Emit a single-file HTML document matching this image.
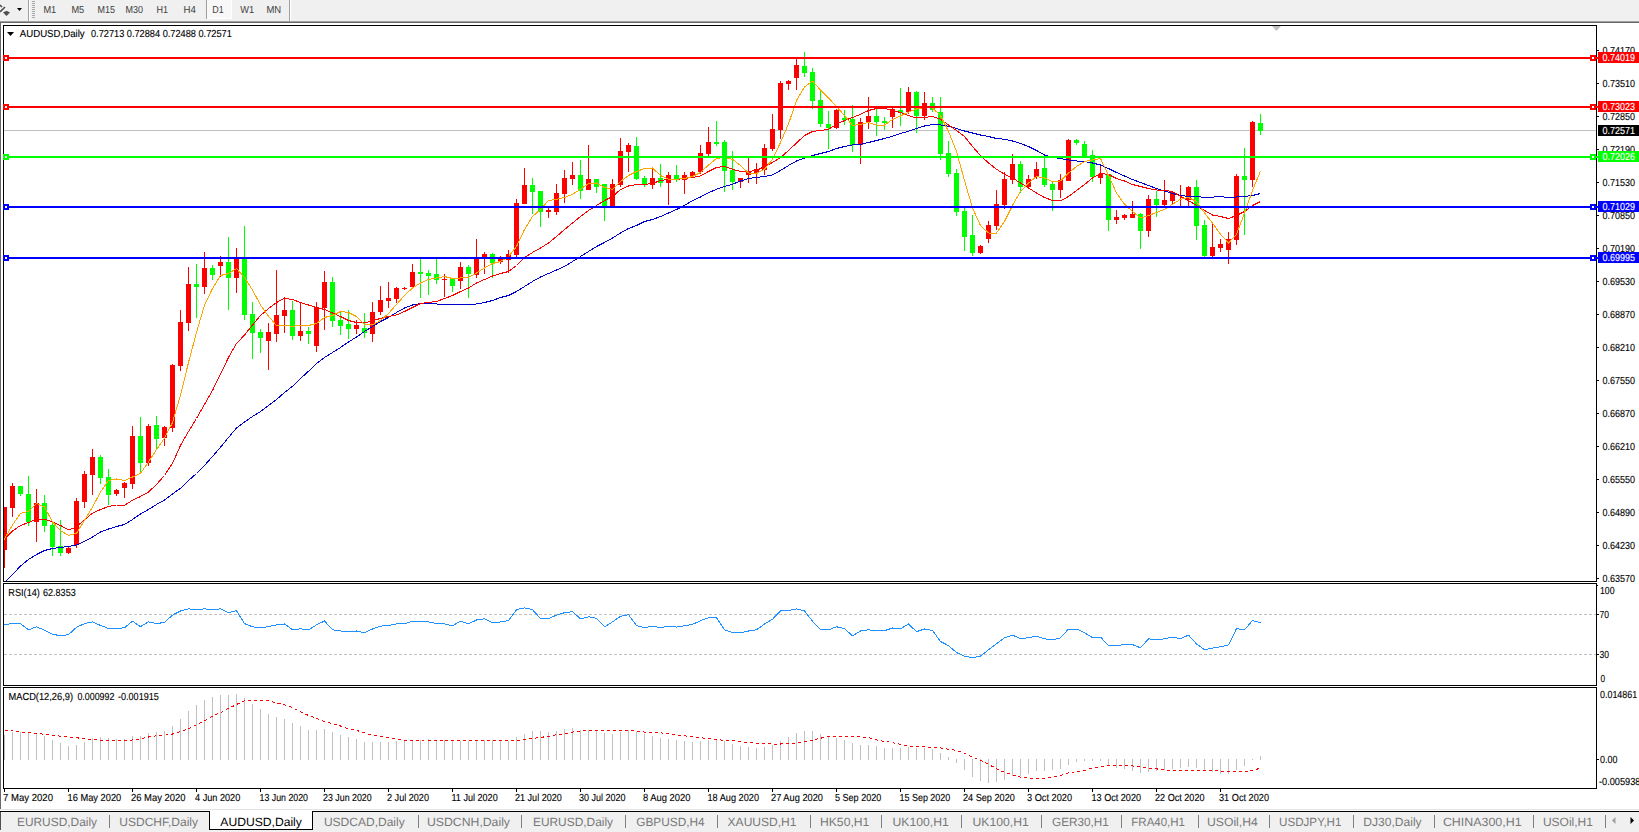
<!DOCTYPE html><html><head><meta charset="utf-8"><title>AUDUSD,Daily</title><style>html,body{margin:0;padding:0;background:#fff;}body{width:1639px;height:832px;overflow:hidden;font-family:"Liberation Sans",sans-serif;}svg{display:block;}text{font-family:"Liberation Sans",sans-serif;text-rendering:geometricPrecision;}</style></head><body>
<svg width="1639" height="832" viewBox="0 0 1639 832">
<rect width="1639" height="832" fill="#fff"/>
<g shape-rendering="crispEdges">
<rect x="0" y="0" width="1639" height="21" fill="#f0f0f0" />
<rect x="0" y="21" width="1639" height="1" fill="#a0a0a0" />
<rect x="0" y="22" width="1639" height="1" fill="#696969" />
<rect x="0" y="23" width="1" height="786" fill="#696969" />
<rect x="28" y="0" width="1" height="21" fill="#a0a0a0" />
<rect x="29" y="0" width="1" height="21" fill="#ffffff" />
<rect x="289" y="0" width="1" height="21" fill="#a0a0a0" />
<rect x="290" y="0" width="1" height="21" fill="#ffffff" />
<rect x="32" y="1" width="3" height="1" fill="#a8a8a8" />
<rect x="32" y="3" width="3" height="1" fill="#a8a8a8" />
<rect x="32" y="5" width="3" height="1" fill="#a8a8a8" />
<rect x="32" y="7" width="3" height="1" fill="#a8a8a8" />
<rect x="32" y="9" width="3" height="1" fill="#a8a8a8" />
<rect x="32" y="11" width="3" height="1" fill="#a8a8a8" />
<rect x="32" y="13" width="3" height="1" fill="#a8a8a8" />
<rect x="32" y="15" width="3" height="1" fill="#a8a8a8" />
<rect x="32" y="17" width="3" height="1" fill="#a8a8a8" />
<rect x="207" y="0" width="24" height="18" fill="#f8f8f8" />
<rect x="206" y="0" width="1" height="19" fill="#a0a0a0" />
<rect x="231" y="0" width="1" height="19" fill="#fff" />
<rect x="207" y="18" width="25" height="1" fill="#fff" />
<rect x="3" y="25" width="1594" height="1" fill="#000" />
<rect x="3" y="25" width="1" height="764" fill="#000" />
<rect x="1596" y="25" width="1" height="764" fill="#000" />
<rect x="3" y="581" width="1594" height="1" fill="#000" />
<rect x="3" y="582" width="1594" height="1" fill="#fff" />
<rect x="3" y="583" width="1594" height="1" fill="#000" />
<rect x="3" y="685" width="1594" height="1" fill="#000" />
<rect x="3" y="686" width="1594" height="1" fill="#fff" />
<rect x="3" y="687" width="1594" height="1" fill="#000" />
<rect x="3" y="788" width="1594" height="1" fill="#000" />
</g>
<defs><clipPath id="cm"><rect x="4" y="26" width="1592" height="555"/></clipPath><clipPath id="ca"><rect x="1597" y="26" width="42" height="556"/></clipPath></defs>
<g clip-path="url(#cm)">
<g shape-rendering="crispEdges">
<rect x="4" y="130" width="1592" height="1" fill="#c0c0c0" />
</g><polygon points="1272,26 1281,26 1276.5,31" fill="#c0c0c0"/><g shape-rendering="crispEdges">
<rect x="4" y="507" width="1" height="61" fill="#ff0000" />
<rect x="2" y="507" width="5" height="43" fill="#ff0000" />
<rect x="12" y="483" width="1" height="34" fill="#ff0000" />
<rect x="10" y="486" width="5" height="22" fill="#ff0000" />
<rect x="20" y="486" width="1" height="10" fill="#00ff00" />
<rect x="18" y="486" width="5" height="8" fill="#00ff00" />
<rect x="28" y="476" width="1" height="50" fill="#00ff00" />
<rect x="26" y="494" width="5" height="28" fill="#00ff00" />
<rect x="36" y="489" width="1" height="53" fill="#ff0000" />
<rect x="34" y="503" width="5" height="19" fill="#ff0000" />
<rect x="44" y="495" width="1" height="37" fill="#00ff00" />
<rect x="42" y="503" width="5" height="23" fill="#00ff00" />
<rect x="52" y="522" width="1" height="34" fill="#00ff00" />
<rect x="50" y="525" width="5" height="22" fill="#00ff00" />
<rect x="60" y="520" width="1" height="36" fill="#00ff00" />
<rect x="58" y="546" width="5" height="7" fill="#00ff00" />
<rect x="68" y="547" width="1" height="7" fill="#ff0000" />
<rect x="66" y="548" width="5" height="5" fill="#ff0000" />
<rect x="76" y="498" width="1" height="50" fill="#ff0000" />
<rect x="74" y="501" width="5" height="44" fill="#ff0000" />
<rect x="84" y="471" width="1" height="37" fill="#ff0000" />
<rect x="82" y="474" width="5" height="28" fill="#ff0000" />
<rect x="92" y="449" width="1" height="46" fill="#ff0000" />
<rect x="90" y="457" width="5" height="18" fill="#ff0000" />
<rect x="100" y="455" width="1" height="29" fill="#00ff00" />
<rect x="98" y="457" width="5" height="21" fill="#00ff00" />
<rect x="108" y="469" width="1" height="36" fill="#00ff00" />
<rect x="106" y="477" width="5" height="18" fill="#00ff00" />
<rect x="116" y="489" width="1" height="7" fill="#ff0000" />
<rect x="114" y="490" width="5" height="4" fill="#ff0000" />
<rect x="124" y="482" width="1" height="16" fill="#ff0000" />
<rect x="122" y="483" width="5" height="5" fill="#ff0000" />
<rect x="132" y="426" width="1" height="63" fill="#ff0000" />
<rect x="130" y="436" width="5" height="48" fill="#ff0000" />
<rect x="140" y="417" width="1" height="56" fill="#00ff00" />
<rect x="138" y="436" width="5" height="27" fill="#00ff00" />
<rect x="148" y="424" width="1" height="42" fill="#ff0000" />
<rect x="146" y="426" width="5" height="37" fill="#ff0000" />
<rect x="156" y="416" width="1" height="33" fill="#00ff00" />
<rect x="154" y="425" width="5" height="14" fill="#00ff00" />
<rect x="164" y="426" width="1" height="20" fill="#ff0000" />
<rect x="162" y="427" width="5" height="11" fill="#ff0000" />
<rect x="172" y="364" width="1" height="68" fill="#ff0000" />
<rect x="170" y="365" width="5" height="63" fill="#ff0000" />
<rect x="180" y="310" width="1" height="61" fill="#ff0000" />
<rect x="178" y="322" width="5" height="44" fill="#ff0000" />
<rect x="188" y="267" width="1" height="64" fill="#ff0000" />
<rect x="186" y="284" width="5" height="39" fill="#ff0000" />
<rect x="196" y="264" width="1" height="54" fill="#00ff00" />
<rect x="194" y="284" width="5" height="3" fill="#00ff00" />
<rect x="204" y="252" width="1" height="42" fill="#ff0000" />
<rect x="202" y="268" width="5" height="19" fill="#ff0000" />
<rect x="212" y="265" width="1" height="15" fill="#00ff00" />
<rect x="210" y="268" width="5" height="7" fill="#00ff00" />
<rect x="220" y="256" width="1" height="21" fill="#ff0000" />
<rect x="218" y="262" width="5" height="4" fill="#ff0000" />
<rect x="228" y="237" width="1" height="73" fill="#00ff00" />
<rect x="226" y="262" width="5" height="16" fill="#00ff00" />
<rect x="236" y="248" width="1" height="45" fill="#ff0000" />
<rect x="234" y="259" width="5" height="19" fill="#ff0000" />
<rect x="244" y="226" width="1" height="94" fill="#00ff00" />
<rect x="242" y="259" width="5" height="56" fill="#00ff00" />
<rect x="252" y="302" width="1" height="57" fill="#00ff00" />
<rect x="250" y="314" width="5" height="19" fill="#00ff00" />
<rect x="260" y="329" width="1" height="24" fill="#00ff00" />
<rect x="258" y="332" width="5" height="6" fill="#00ff00" />
<rect x="268" y="323" width="1" height="47" fill="#ff0000" />
<rect x="266" y="332" width="5" height="9" fill="#ff0000" />
<rect x="276" y="270" width="1" height="72" fill="#ff0000" />
<rect x="274" y="315" width="5" height="19" fill="#ff0000" />
<rect x="284" y="297" width="1" height="36" fill="#ff0000" />
<rect x="282" y="310" width="5" height="6" fill="#ff0000" />
<rect x="292" y="301" width="1" height="39" fill="#00ff00" />
<rect x="290" y="310" width="5" height="26" fill="#00ff00" />
<rect x="300" y="302" width="1" height="39" fill="#ff0000" />
<rect x="298" y="331" width="5" height="5" fill="#ff0000" />
<rect x="308" y="327" width="1" height="17" fill="#00ff00" />
<rect x="306" y="331" width="5" height="3" fill="#00ff00" />
<rect x="316" y="302" width="1" height="50" fill="#ff0000" />
<rect x="314" y="307" width="5" height="39" fill="#ff0000" />
<rect x="324" y="271" width="1" height="59" fill="#ff0000" />
<rect x="322" y="282" width="5" height="26" fill="#ff0000" />
<rect x="332" y="277" width="1" height="50" fill="#00ff00" />
<rect x="330" y="282" width="5" height="39" fill="#00ff00" />
<rect x="340" y="312" width="1" height="23" fill="#00ff00" />
<rect x="338" y="320" width="5" height="6" fill="#00ff00" />
<rect x="348" y="310" width="1" height="29" fill="#00ff00" />
<rect x="346" y="324" width="5" height="5" fill="#00ff00" />
<rect x="356" y="320" width="1" height="14" fill="#ff0000" />
<rect x="354" y="325" width="5" height="4" fill="#ff0000" />
<rect x="364" y="313" width="1" height="25" fill="#00ff00" />
<rect x="362" y="328" width="5" height="5" fill="#00ff00" />
<rect x="372" y="302" width="1" height="40" fill="#ff0000" />
<rect x="370" y="312" width="5" height="22" fill="#ff0000" />
<rect x="380" y="286" width="1" height="29" fill="#ff0000" />
<rect x="378" y="300" width="5" height="12" fill="#ff0000" />
<rect x="388" y="282" width="1" height="26" fill="#ff0000" />
<rect x="386" y="298" width="5" height="3" fill="#ff0000" />
<rect x="396" y="287" width="1" height="16" fill="#ff0000" />
<rect x="394" y="288" width="5" height="11" fill="#ff0000" />
<rect x="404" y="287" width="1" height="3" fill="#ff0000" />
<rect x="402" y="288" width="5" height="1" fill="#ff0000" />
<rect x="412" y="264" width="1" height="24" fill="#ff0000" />
<rect x="410" y="272" width="5" height="15" fill="#ff0000" />
<rect x="420" y="259" width="1" height="39" fill="#00ff00" />
<rect x="418" y="272" width="5" height="2" fill="#00ff00" />
<rect x="428" y="270" width="1" height="25" fill="#00ff00" />
<rect x="426" y="273" width="5" height="3" fill="#00ff00" />
<rect x="436" y="259" width="1" height="25" fill="#00ff00" />
<rect x="434" y="274" width="5" height="6" fill="#00ff00" />
<rect x="444" y="274" width="1" height="23" fill="#ff0000" />
<rect x="442" y="279" width="5" height="1" fill="#ff0000" />
<rect x="452" y="279" width="1" height="13" fill="#00ff00" />
<rect x="450" y="279" width="5" height="7" fill="#00ff00" />
<rect x="460" y="262" width="1" height="27" fill="#ff0000" />
<rect x="458" y="267" width="5" height="14" fill="#ff0000" />
<rect x="468" y="265" width="1" height="33" fill="#00ff00" />
<rect x="466" y="267" width="5" height="7" fill="#00ff00" />
<rect x="476" y="239" width="1" height="39" fill="#ff0000" />
<rect x="474" y="259" width="5" height="16" fill="#ff0000" />
<rect x="484" y="252" width="1" height="22" fill="#ff0000" />
<rect x="482" y="254" width="5" height="5" fill="#ff0000" />
<rect x="492" y="253" width="1" height="25" fill="#00ff00" />
<rect x="490" y="254" width="5" height="9" fill="#00ff00" />
<rect x="500" y="256" width="1" height="8" fill="#ff0000" />
<rect x="498" y="259" width="5" height="3" fill="#ff0000" />
<rect x="508" y="250" width="1" height="23" fill="#ff0000" />
<rect x="506" y="254" width="5" height="6" fill="#ff0000" />
<rect x="516" y="199" width="1" height="58" fill="#ff0000" />
<rect x="514" y="203" width="5" height="52" fill="#ff0000" />
<rect x="524" y="168" width="1" height="36" fill="#ff0000" />
<rect x="522" y="185" width="5" height="19" fill="#ff0000" />
<rect x="532" y="178" width="1" height="36" fill="#00ff00" />
<rect x="530" y="185" width="5" height="7" fill="#00ff00" />
<rect x="540" y="191" width="1" height="36" fill="#00ff00" />
<rect x="538" y="191" width="5" height="21" fill="#00ff00" />
<rect x="548" y="207" width="1" height="11" fill="#ff0000" />
<rect x="546" y="210" width="5" height="2" fill="#ff0000" />
<rect x="556" y="184" width="1" height="31" fill="#ff0000" />
<rect x="554" y="193" width="5" height="19" fill="#ff0000" />
<rect x="564" y="170" width="1" height="33" fill="#ff0000" />
<rect x="562" y="178" width="5" height="16" fill="#ff0000" />
<rect x="572" y="162" width="1" height="23" fill="#ff0000" />
<rect x="570" y="175" width="5" height="4" fill="#ff0000" />
<rect x="580" y="160" width="1" height="39" fill="#00ff00" />
<rect x="578" y="175" width="5" height="16" fill="#00ff00" />
<rect x="588" y="145" width="1" height="45" fill="#ff0000" />
<rect x="586" y="179" width="5" height="11" fill="#ff0000" />
<rect x="596" y="179" width="1" height="14" fill="#00ff00" />
<rect x="594" y="179" width="5" height="8" fill="#00ff00" />
<rect x="604" y="184" width="1" height="37" fill="#00ff00" />
<rect x="602" y="184" width="5" height="22" fill="#00ff00" />
<rect x="612" y="179" width="1" height="27" fill="#ff0000" />
<rect x="610" y="184" width="5" height="22" fill="#ff0000" />
<rect x="620" y="138" width="1" height="49" fill="#ff0000" />
<rect x="618" y="151" width="5" height="34" fill="#ff0000" />
<rect x="628" y="143" width="1" height="29" fill="#ff0000" />
<rect x="626" y="145" width="5" height="7" fill="#ff0000" />
<rect x="636" y="137" width="1" height="43" fill="#00ff00" />
<rect x="634" y="146" width="5" height="33" fill="#00ff00" />
<rect x="644" y="176" width="1" height="11" fill="#00ff00" />
<rect x="642" y="178" width="5" height="6" fill="#00ff00" />
<rect x="652" y="167" width="1" height="22" fill="#ff0000" />
<rect x="650" y="178" width="5" height="7" fill="#ff0000" />
<rect x="660" y="164" width="1" height="23" fill="#00ff00" />
<rect x="658" y="178" width="5" height="5" fill="#00ff00" />
<rect x="668" y="172" width="1" height="33" fill="#ff0000" />
<rect x="666" y="175" width="5" height="8" fill="#ff0000" />
<rect x="676" y="165" width="1" height="17" fill="#00ff00" />
<rect x="674" y="175" width="5" height="4" fill="#00ff00" />
<rect x="684" y="172" width="1" height="22" fill="#ff0000" />
<rect x="682" y="175" width="5" height="5" fill="#ff0000" />
<rect x="692" y="171" width="1" height="7" fill="#ff0000" />
<rect x="690" y="172" width="5" height="4" fill="#ff0000" />
<rect x="700" y="145" width="1" height="29" fill="#ff0000" />
<rect x="698" y="153" width="5" height="19" fill="#ff0000" />
<rect x="708" y="127" width="1" height="29" fill="#ff0000" />
<rect x="706" y="142" width="5" height="12" fill="#ff0000" />
<rect x="716" y="121" width="1" height="25" fill="#00ff00" />
<rect x="714" y="142" width="5" height="2" fill="#00ff00" />
<rect x="724" y="140" width="1" height="52" fill="#00ff00" />
<rect x="722" y="142" width="5" height="29" fill="#00ff00" />
<rect x="732" y="151" width="1" height="39" fill="#00ff00" />
<rect x="730" y="170" width="5" height="12" fill="#00ff00" />
<rect x="740" y="178" width="1" height="10" fill="#ff0000" />
<rect x="738" y="178" width="5" height="4" fill="#ff0000" />
<rect x="748" y="158" width="1" height="25" fill="#ff0000" />
<rect x="746" y="172" width="5" height="3" fill="#ff0000" />
<rect x="756" y="163" width="1" height="21" fill="#ff0000" />
<rect x="754" y="169" width="5" height="4" fill="#ff0000" />
<rect x="764" y="144" width="1" height="31" fill="#ff0000" />
<rect x="762" y="148" width="5" height="22" fill="#ff0000" />
<rect x="772" y="114" width="1" height="37" fill="#ff0000" />
<rect x="770" y="129" width="5" height="20" fill="#ff0000" />
<rect x="780" y="81" width="1" height="58" fill="#ff0000" />
<rect x="778" y="83" width="5" height="47" fill="#ff0000" />
<rect x="788" y="80" width="1" height="10" fill="#ff0000" />
<rect x="786" y="81" width="5" height="3" fill="#ff0000" />
<rect x="796" y="59" width="1" height="31" fill="#ff0000" />
<rect x="794" y="65" width="5" height="13" fill="#ff0000" />
<rect x="804" y="52" width="1" height="25" fill="#00ff00" />
<rect x="802" y="66" width="5" height="7" fill="#00ff00" />
<rect x="812" y="68" width="1" height="41" fill="#00ff00" />
<rect x="810" y="72" width="5" height="29" fill="#00ff00" />
<rect x="820" y="89" width="1" height="38" fill="#00ff00" />
<rect x="818" y="100" width="5" height="24" fill="#00ff00" />
<rect x="828" y="111" width="1" height="38" fill="#00ff00" />
<rect x="826" y="124" width="5" height="4" fill="#00ff00" />
<rect x="836" y="109" width="1" height="20" fill="#ff0000" />
<rect x="834" y="110" width="5" height="18" fill="#ff0000" />
<rect x="844" y="110" width="1" height="15" fill="#00ff00" />
<rect x="842" y="118" width="5" height="2" fill="#00ff00" />
<rect x="852" y="105" width="1" height="47" fill="#00ff00" />
<rect x="850" y="119" width="5" height="26" fill="#00ff00" />
<rect x="860" y="118" width="1" height="46" fill="#ff0000" />
<rect x="858" y="122" width="5" height="23" fill="#ff0000" />
<rect x="868" y="97" width="1" height="32" fill="#ff0000" />
<rect x="866" y="116" width="5" height="6" fill="#ff0000" />
<rect x="876" y="109" width="1" height="27" fill="#00ff00" />
<rect x="874" y="116" width="5" height="6" fill="#00ff00" />
<rect x="884" y="117" width="1" height="13" fill="#00ff00" />
<rect x="882" y="121" width="5" height="2" fill="#00ff00" />
<rect x="892" y="108" width="1" height="20" fill="#ff0000" />
<rect x="890" y="109" width="5" height="8" fill="#ff0000" />
<rect x="900" y="88" width="1" height="38" fill="#00ff00" />
<rect x="898" y="110" width="5" height="3" fill="#00ff00" />
<rect x="908" y="87" width="1" height="27" fill="#ff0000" />
<rect x="906" y="92" width="5" height="20" fill="#ff0000" />
<rect x="916" y="91" width="1" height="42" fill="#00ff00" />
<rect x="914" y="92" width="5" height="24" fill="#00ff00" />
<rect x="924" y="92" width="1" height="28" fill="#ff0000" />
<rect x="922" y="103" width="5" height="13" fill="#ff0000" />
<rect x="932" y="97" width="1" height="15" fill="#00ff00" />
<rect x="930" y="103" width="5" height="7" fill="#00ff00" />
<rect x="940" y="97" width="1" height="63" fill="#00ff00" />
<rect x="938" y="112" width="5" height="42" fill="#00ff00" />
<rect x="948" y="141" width="1" height="36" fill="#00ff00" />
<rect x="946" y="153" width="5" height="21" fill="#00ff00" />
<rect x="956" y="169" width="1" height="47" fill="#00ff00" />
<rect x="954" y="173" width="5" height="39" fill="#00ff00" />
<rect x="964" y="208" width="1" height="43" fill="#00ff00" />
<rect x="962" y="211" width="5" height="26" fill="#00ff00" />
<rect x="972" y="215" width="1" height="41" fill="#00ff00" />
<rect x="970" y="235" width="5" height="18" fill="#00ff00" />
<rect x="980" y="245" width="1" height="9" fill="#ff0000" />
<rect x="978" y="246" width="5" height="7" fill="#ff0000" />
<rect x="988" y="221" width="1" height="22" fill="#ff0000" />
<rect x="986" y="225" width="5" height="14" fill="#ff0000" />
<rect x="996" y="190" width="1" height="40" fill="#ff0000" />
<rect x="994" y="204" width="5" height="22" fill="#ff0000" />
<rect x="1004" y="172" width="1" height="37" fill="#ff0000" />
<rect x="1002" y="179" width="5" height="26" fill="#ff0000" />
<rect x="1012" y="154" width="1" height="30" fill="#ff0000" />
<rect x="1010" y="164" width="5" height="16" fill="#ff0000" />
<rect x="1020" y="161" width="1" height="32" fill="#00ff00" />
<rect x="1018" y="164" width="5" height="23" fill="#00ff00" />
<rect x="1028" y="175" width="1" height="14" fill="#ff0000" />
<rect x="1026" y="179" width="5" height="8" fill="#ff0000" />
<rect x="1036" y="162" width="1" height="17" fill="#ff0000" />
<rect x="1034" y="169" width="5" height="8" fill="#ff0000" />
<rect x="1044" y="155" width="1" height="32" fill="#00ff00" />
<rect x="1042" y="168" width="5" height="17" fill="#00ff00" />
<rect x="1052" y="181" width="1" height="30" fill="#00ff00" />
<rect x="1050" y="184" width="5" height="6" fill="#00ff00" />
<rect x="1060" y="174" width="1" height="24" fill="#ff0000" />
<rect x="1058" y="180" width="5" height="10" fill="#ff0000" />
<rect x="1068" y="139" width="1" height="42" fill="#ff0000" />
<rect x="1066" y="140" width="5" height="41" fill="#ff0000" />
<rect x="1076" y="139" width="1" height="6" fill="#00ff00" />
<rect x="1074" y="140" width="5" height="3" fill="#00ff00" />
<rect x="1084" y="141" width="1" height="16" fill="#00ff00" />
<rect x="1082" y="144" width="5" height="13" fill="#00ff00" />
<rect x="1092" y="150" width="1" height="32" fill="#00ff00" />
<rect x="1090" y="155" width="5" height="22" fill="#00ff00" />
<rect x="1100" y="165" width="1" height="19" fill="#ff0000" />
<rect x="1098" y="174" width="5" height="4" fill="#ff0000" />
<rect x="1108" y="174" width="1" height="57" fill="#00ff00" />
<rect x="1106" y="174" width="5" height="46" fill="#00ff00" />
<rect x="1116" y="210" width="1" height="14" fill="#ff0000" />
<rect x="1114" y="217" width="5" height="3" fill="#ff0000" />
<rect x="1124" y="214" width="1" height="6" fill="#ff0000" />
<rect x="1122" y="215" width="5" height="3" fill="#ff0000" />
<rect x="1132" y="201" width="1" height="17" fill="#ff0000" />
<rect x="1130" y="214" width="5" height="4" fill="#ff0000" />
<rect x="1140" y="213" width="1" height="36" fill="#00ff00" />
<rect x="1138" y="214" width="5" height="17" fill="#00ff00" />
<rect x="1148" y="195" width="1" height="42" fill="#ff0000" />
<rect x="1146" y="199" width="5" height="32" fill="#ff0000" />
<rect x="1156" y="191" width="1" height="26" fill="#00ff00" />
<rect x="1154" y="199" width="5" height="6" fill="#00ff00" />
<rect x="1164" y="180" width="1" height="28" fill="#ff0000" />
<rect x="1162" y="200" width="5" height="5" fill="#ff0000" />
<rect x="1172" y="191" width="1" height="14" fill="#ff0000" />
<rect x="1170" y="192" width="5" height="9" fill="#ff0000" />
<rect x="1180" y="185" width="1" height="21" fill="#ff0000" />
<rect x="1178" y="195" width="5" height="1" fill="#ff0000" />
<rect x="1188" y="186" width="1" height="20" fill="#ff0000" />
<rect x="1186" y="187" width="5" height="13" fill="#ff0000" />
<rect x="1196" y="180" width="1" height="60" fill="#00ff00" />
<rect x="1194" y="187" width="5" height="39" fill="#00ff00" />
<rect x="1204" y="220" width="1" height="37" fill="#00ff00" />
<rect x="1202" y="225" width="5" height="31" fill="#00ff00" />
<rect x="1212" y="222" width="1" height="35" fill="#ff0000" />
<rect x="1210" y="247" width="5" height="9" fill="#ff0000" />
<rect x="1220" y="239" width="1" height="13" fill="#ff0000" />
<rect x="1218" y="244" width="5" height="4" fill="#ff0000" />
<rect x="1228" y="232" width="1" height="32" fill="#ff0000" />
<rect x="1226" y="239" width="5" height="11" fill="#ff0000" />
<rect x="1236" y="174" width="1" height="71" fill="#ff0000" />
<rect x="1234" y="176" width="5" height="64" fill="#ff0000" />
<rect x="1244" y="148" width="1" height="87" fill="#00ff00" />
<rect x="1242" y="176" width="5" height="4" fill="#00ff00" />
<rect x="1252" y="121" width="1" height="66" fill="#ff0000" />
<rect x="1250" y="122" width="5" height="58" fill="#ff0000" />
<rect x="1260" y="114" width="1" height="21" fill="#00ff00" />
<rect x="1258" y="123" width="5" height="8" fill="#00ff00" />
</g>
<polyline points="-3.5,590.5 4.5,582.5 12.5,574.5 20.5,566 28.5,559.5 36.5,554.5 44.5,550.5 52.5,548.5 60.5,547.5 68.5,546.5 76.5,545 84.5,541.5 92.5,537 100.5,532 108.5,529 116.5,526.5 124.5,524.5 132.5,519.5 140.5,514 148.5,509.5 156.5,504.5 164.5,500 172.5,494 180.5,488.25 188.5,480.5 196.5,473.5 204.5,465.5 212.5,456.5 220.5,447.2 228.5,437.5 236.5,428 244.5,422 252.5,416.5 260.5,411.5 268.5,405.5 276.5,399.5 284.5,392.5 292.5,386.25 300.5,378.5 308.5,371.25 316.5,363.5 324.5,357.5 332.5,352.5 340.5,347.5 348.5,342 356.5,337 364.5,331.5 372.5,326.5 380.5,321.5 388.5,317.5 396.5,312.5 404.5,308 412.5,305 420.5,303.5 428.5,303.5 436.5,304 444.5,304 452.5,304.5 460.5,305 468.5,304.5 476.5,304 484.5,302.5 492.5,300.5 500.5,297.5 508.5,295.5 516.5,291.5 524.5,286.5 532.5,281.5 540.5,277 548.5,273.5 556.5,270 564.5,266.5 572.5,261.5 580.5,256.5 588.5,251.5 596.5,246.5 604.5,242.5 612.5,238 620.5,233 628.5,228.5 636.5,225.5 644.5,221.5 652.5,219.5 660.5,216.5 668.5,213 676.5,209.5 684.5,205.5 692.5,200.5 700.5,197 708.5,192.75 716.5,189.25 724.5,186.5 732.5,184.25 740.5,181 748.5,178.5 756.5,177.5 764.5,176.5 772.5,175 780.5,170.5 788.5,165.5 796.5,161 804.5,158 812.5,155.5 820.5,153.5 828.5,151.5 836.5,148.5 844.5,146.5 852.5,145 860.5,144.25 868.5,142.5 876.5,140.5 884.5,138.5 892.5,136.25 900.5,133.5 908.5,131.25 916.5,128.5 924.5,126 932.5,124.5 940.5,125 948.5,126.25 956.5,128.5 964.5,131 972.5,133 980.5,135 988.5,136.5 996.5,138.5 1004.5,139.25 1012.5,141 1020.5,143.5 1028.5,146.5 1036.5,150.5 1044.5,155 1052.5,157.5 1060.5,158.5 1068.5,160 1076.5,161 1084.5,161.5 1092.5,163 1100.5,165 1108.5,168.5 1116.5,172.5 1124.5,176 1132.5,179.5 1140.5,182.5 1148.5,185.5 1156.5,188.5 1164.5,191 1172.5,193.5 1180.5,195.5 1188.5,196.5 1196.5,196.5 1204.5,197.5 1212.5,197.25 1220.5,196.25 1228.5,198 1236.5,197 1244.5,196.5 1252.5,195.5 1260.5,193.5" fill="none" stroke="#0000cd" stroke-width="1" stroke-linejoin="round" shape-rendering="crispEdges"/>
<polyline points="-3.5,547.5 4.5,539 12.5,531 20.5,525.5 28.5,522.5 36.5,519 44.5,519 52.5,522 60.5,525.5 68.5,530 76.5,527 84.5,519.5 92.5,513.25 100.5,509.5 108.5,506.5 116.5,505 124.5,505.25 132.5,500.25 140.5,496.5 148.5,492 156.5,484.5 164.5,475.5 172.5,463.25 180.5,445.5 188.5,431.5 196.5,418.5 204.5,404.5 212.5,390.5 220.5,374 228.5,357.5 236.5,343.5 244.5,335 252.5,325 260.5,315.5 268.5,308.5 276.5,302.5 284.5,298.25 292.5,299.5 300.5,302.5 308.5,305 316.5,307.5 324.5,309.5 332.5,313 340.5,316.5 348.5,320.5 356.5,322.5 364.5,323 372.5,320.5 380.5,318.5 388.5,316.5 396.5,315 404.5,311.5 412.5,307.5 420.5,303.5 428.5,302.5 436.5,301.5 444.5,298.5 452.5,295.5 460.5,291.5 468.5,288 476.5,283 484.5,279.5 492.5,276 500.5,273.5 508.5,271.5 516.5,265.5 524.5,257.5 532.5,252.5 540.5,248 548.5,243 556.5,236.5 564.5,229.5 572.5,223 580.5,216.5 588.5,210.5 596.5,205.5 604.5,200.5 612.5,196.5 620.5,189.5 628.5,186 636.5,184.5 644.5,184.5 652.5,183.5 660.5,180.5 668.5,179.5 676.5,179.5 684.5,178.5 692.5,177.5 700.5,176 708.5,171.5 716.5,167.5 724.5,166.5 732.5,169.25 740.5,171.5 748.5,171.5 756.5,170.5 764.5,166.5 772.5,162.5 780.5,157.5 788.5,150.5 796.5,143 804.5,135.5 812.5,131.5 820.5,130.5 828.5,129.25 836.5,124.25 844.5,120.5 852.5,117.5 860.5,114.25 868.5,110.5 876.5,108.5 884.5,108.25 892.5,110.5 900.5,112.5 908.5,115.5 916.5,118 924.5,117.5 932.5,116.5 940.5,119.25 948.5,125 956.5,130.5 964.5,136.5 972.5,146.5 980.5,155.5 988.5,163 996.5,169.25 1004.5,174.25 1012.5,178 1020.5,183 1028.5,188 1036.5,193 1044.5,197.5 1052.5,200.5 1060.5,201 1068.5,196.5 1076.5,190.5 1084.5,184.5 1092.5,178 1100.5,173.5 1108.5,174.5 1116.5,178.5 1124.5,181 1132.5,184.5 1140.5,186.5 1148.5,188.5 1156.5,190 1164.5,190.5 1172.5,191.5 1180.5,196.5 1188.5,200.5 1196.5,205.5 1204.5,210.5 1212.5,215 1220.5,216.5 1228.5,218.5 1236.5,215.5 1244.5,211.5 1252.5,205.5 1260.5,201.5" fill="none" stroke="#ff0000" stroke-width="1" stroke-linejoin="round" shape-rendering="crispEdges"/>
<polyline points="-3.5,551.5 4.5,539 12.5,525 20.5,513.25 28.5,511.5 36.5,503.25 44.5,507 52.5,522 60.5,530.5 68.5,535.5 76.5,533.25 84.5,520.5 92.5,507 100.5,492 108.5,480.5 116.5,479 124.5,480.5 132.5,477 140.5,473.25 148.5,462 156.5,449.5 164.5,438.25 172.5,422.5 180.5,395 188.5,362.5 196.5,332.5 204.5,305 212.5,288.5 220.5,275.5 228.5,273.5 236.5,268.5 244.5,277.5 252.5,290 260.5,305 268.5,316.25 276.5,325.5 284.5,325.5 292.5,326.25 300.5,325.5 308.5,325.5 316.5,323.5 324.5,317.5 332.5,315.5 340.5,311.5 348.5,312.5 356.5,316.5 364.5,324.5 372.5,325 380.5,320.5 388.5,313.5 396.5,304.5 404.5,295.5 412.5,288 420.5,283 428.5,279.5 436.5,278 444.5,276.5 452.5,278.5 460.5,278 468.5,277.5 476.5,273 484.5,268 492.5,263.5 500.5,261.5 508.5,256.5 516.5,246.5 524.5,229.5 532.5,216.5 540.5,209.5 548.5,200.5 556.5,199.25 564.5,197.5 572.5,194.25 580.5,189.25 588.5,183.5 596.5,183 604.5,187.5 612.5,189.25 620.5,181.5 628.5,175.5 636.5,171.5 644.5,168.5 652.5,168 660.5,175.5 668.5,179.25 676.5,179.25 684.5,178.5 692.5,176.5 700.5,172.5 708.5,165 716.5,158.5 724.5,157.5 732.5,159.25 740.5,165.5 748.5,173 756.5,173.5 764.5,169.25 772.5,159.2 780.5,142.5 788.5,123.9 796.5,100.5 804.5,86.9 812.5,81.1 820.5,90.1 828.5,98 836.5,106.5 844.5,115.5 852.5,125.5 860.5,124.25 868.5,122.5 876.5,125 884.5,125 892.5,119.5 900.5,116 908.5,112.1 916.5,109 924.5,107.5 932.5,108 940.5,115.5 948.5,131.5 956.5,151.5 964.5,180.5 972.5,208 980.5,225.5 988.5,233 996.5,233 1004.5,221.5 1012.5,205.5 1020.5,191.5 1028.5,183 1036.5,176.5 1044.5,178 1052.5,181.5 1060.5,181 1068.5,173 1076.5,166.5 1084.5,161.5 1092.5,160 1100.5,158.5 1108.5,175.5 1116.5,193 1124.5,204.25 1132.5,211.5 1140.5,218 1148.5,215.5 1156.5,212.5 1164.5,209.25 1172.5,204.25 1180.5,199.25 1188.5,197.5 1196.5,201.5 1204.5,213 1212.5,223 1220.5,234.25 1228.5,243 1236.5,234.25 1244.5,213 1252.5,190.5 1260.5,171" fill="none" stroke="#ffa500" stroke-width="1" stroke-linejoin="round" shape-rendering="crispEdges"/>
</g>
<g shape-rendering="crispEdges">
<rect x="3" y="57" width="1595" height="2" fill="#ff0000" />
<rect x="3" y="55" width="6" height="6" fill="#ff0000" />
<rect x="5" y="57" width="2" height="2" fill="#fff" />
<rect x="1590" y="55" width="6" height="6" fill="#ff0000" />
<rect x="1592" y="57" width="2" height="2" fill="#fff" />
<rect x="3" y="106" width="1595" height="2" fill="#ff0000" />
<rect x="3" y="104" width="6" height="6" fill="#ff0000" />
<rect x="5" y="106" width="2" height="2" fill="#fff" />
<rect x="1590" y="104" width="6" height="6" fill="#ff0000" />
<rect x="1592" y="106" width="2" height="2" fill="#fff" />
<rect x="3" y="156" width="1595" height="2" fill="#00ff00" />
<rect x="3" y="154" width="6" height="6" fill="#00ff00" />
<rect x="5" y="156" width="2" height="2" fill="#fff" />
<rect x="1590" y="154" width="6" height="6" fill="#00ff00" />
<rect x="1592" y="156" width="2" height="2" fill="#fff" />
<rect x="3" y="206" width="1595" height="2" fill="#0000ff" />
<rect x="3" y="204" width="6" height="6" fill="#0000ff" />
<rect x="5" y="206" width="2" height="2" fill="#fff" />
<rect x="1590" y="204" width="6" height="6" fill="#0000ff" />
<rect x="1592" y="206" width="2" height="2" fill="#fff" />
<rect x="3" y="257" width="1595" height="2" fill="#0000ff" />
<rect x="3" y="255" width="6" height="6" fill="#0000ff" />
<rect x="5" y="257" width="2" height="2" fill="#fff" />
<rect x="1590" y="255" width="6" height="6" fill="#0000ff" />
<rect x="1592" y="257" width="2" height="2" fill="#fff" />
</g>
<polygon points="7,32 14,32 10.5,36" fill="#000"/>
<text x="19.8" y="37" font-size="10.2" fill="#000" stroke="#000" stroke-width="0.12" textLength="64.8" lengthAdjust="spacingAndGlyphs" >AUDUSD,Daily</text>
<text x="91" y="37" font-size="10.2" fill="#000" stroke="#000" stroke-width="0.12" textLength="140.75" lengthAdjust="spacingAndGlyphs" >0.72713 0.72884 0.72488 0.72571</text>
<g clip-path="url(#ca)">
<rect x="1597" y="50" width="2" height="1" fill="#000" shape-rendering="crispEdges"/>
<text x="1602.4" y="54" font-size="10.2" fill="#000" stroke="#000" stroke-width="0.12" textLength="32.5" lengthAdjust="spacingAndGlyphs" >0.74170</text>
<rect x="1597" y="83" width="2" height="1" fill="#000" shape-rendering="crispEdges"/>
<text x="1602.4" y="87" font-size="10.2" fill="#000" stroke="#000" stroke-width="0.12" textLength="32.5" lengthAdjust="spacingAndGlyphs" >0.73510</text>
<rect x="1597" y="116" width="2" height="1" fill="#000" shape-rendering="crispEdges"/>
<text x="1602.4" y="120" font-size="10.2" fill="#000" stroke="#000" stroke-width="0.12" textLength="32.5" lengthAdjust="spacingAndGlyphs" >0.72850</text>
<rect x="1597" y="149" width="2" height="1" fill="#000" shape-rendering="crispEdges"/>
<text x="1602.4" y="153" font-size="10.2" fill="#000" stroke="#000" stroke-width="0.12" textLength="32.5" lengthAdjust="spacingAndGlyphs" >0.72190</text>
<rect x="1597" y="182" width="2" height="1" fill="#000" shape-rendering="crispEdges"/>
<text x="1602.4" y="186" font-size="10.2" fill="#000" stroke="#000" stroke-width="0.12" textLength="32.5" lengthAdjust="spacingAndGlyphs" >0.71530</text>
<rect x="1597" y="215" width="2" height="1" fill="#000" shape-rendering="crispEdges"/>
<text x="1602.4" y="219" font-size="10.2" fill="#000" stroke="#000" stroke-width="0.12" textLength="32.5" lengthAdjust="spacingAndGlyphs" >0.70850</text>
<rect x="1597" y="248" width="2" height="1" fill="#000" shape-rendering="crispEdges"/>
<text x="1602.4" y="252" font-size="10.2" fill="#000" stroke="#000" stroke-width="0.12" textLength="32.5" lengthAdjust="spacingAndGlyphs" >0.70190</text>
<rect x="1597" y="281" width="2" height="1" fill="#000" shape-rendering="crispEdges"/>
<text x="1602.4" y="285" font-size="10.2" fill="#000" stroke="#000" stroke-width="0.12" textLength="32.5" lengthAdjust="spacingAndGlyphs" >0.69530</text>
<rect x="1597" y="314" width="2" height="1" fill="#000" shape-rendering="crispEdges"/>
<text x="1602.4" y="318" font-size="10.2" fill="#000" stroke="#000" stroke-width="0.12" textLength="32.5" lengthAdjust="spacingAndGlyphs" >0.68870</text>
<rect x="1597" y="347" width="2" height="1" fill="#000" shape-rendering="crispEdges"/>
<text x="1602.4" y="351" font-size="10.2" fill="#000" stroke="#000" stroke-width="0.12" textLength="32.5" lengthAdjust="spacingAndGlyphs" >0.68210</text>
<rect x="1597" y="380" width="2" height="1" fill="#000" shape-rendering="crispEdges"/>
<text x="1602.4" y="384" font-size="10.2" fill="#000" stroke="#000" stroke-width="0.12" textLength="32.5" lengthAdjust="spacingAndGlyphs" >0.67550</text>
<rect x="1597" y="413" width="2" height="1" fill="#000" shape-rendering="crispEdges"/>
<text x="1602.4" y="417" font-size="10.2" fill="#000" stroke="#000" stroke-width="0.12" textLength="32.5" lengthAdjust="spacingAndGlyphs" >0.66870</text>
<rect x="1597" y="446" width="2" height="1" fill="#000" shape-rendering="crispEdges"/>
<text x="1602.4" y="450" font-size="10.2" fill="#000" stroke="#000" stroke-width="0.12" textLength="32.5" lengthAdjust="spacingAndGlyphs" >0.66210</text>
<rect x="1597" y="479" width="2" height="1" fill="#000" shape-rendering="crispEdges"/>
<text x="1602.4" y="483" font-size="10.2" fill="#000" stroke="#000" stroke-width="0.12" textLength="32.5" lengthAdjust="spacingAndGlyphs" >0.65550</text>
<rect x="1597" y="512" width="2" height="1" fill="#000" shape-rendering="crispEdges"/>
<text x="1602.4" y="516" font-size="10.2" fill="#000" stroke="#000" stroke-width="0.12" textLength="32.5" lengthAdjust="spacingAndGlyphs" >0.64890</text>
<rect x="1597" y="545" width="2" height="1" fill="#000" shape-rendering="crispEdges"/>
<text x="1602.4" y="549" font-size="10.2" fill="#000" stroke="#000" stroke-width="0.12" textLength="32.5" lengthAdjust="spacingAndGlyphs" >0.64230</text>
<rect x="1597" y="578" width="2" height="1" fill="#000" shape-rendering="crispEdges"/>
<text x="1602.4" y="582" font-size="10.2" fill="#000" stroke="#000" stroke-width="0.12" textLength="32.5" lengthAdjust="spacingAndGlyphs" >0.63570</text>
<rect x="1598" y="52" width="41" height="11" fill="#ff0000" shape-rendering="crispEdges"/>
<text x="1602.4" y="61" font-size="10.2" fill="#fff" stroke="#fff" stroke-width="0.12" textLength="32.5" lengthAdjust="spacingAndGlyphs" >0.74019</text>
<rect x="1598" y="101" width="41" height="11" fill="#ff0000" shape-rendering="crispEdges"/>
<text x="1602.4" y="110" font-size="10.2" fill="#fff" stroke="#fff" stroke-width="0.12" textLength="32.5" lengthAdjust="spacingAndGlyphs" >0.73023</text>
<rect x="1598" y="125" width="41" height="11" fill="#000" shape-rendering="crispEdges"/>
<text x="1602.4" y="134" font-size="10.2" fill="#fff" stroke="#fff" stroke-width="0.12" textLength="32.5" lengthAdjust="spacingAndGlyphs" >0.72571</text>
<rect x="1598" y="151" width="41" height="11" fill="#00ff00" shape-rendering="crispEdges"/>
<text x="1602.4" y="160" font-size="10.2" fill="#fff" stroke="#fff" stroke-width="0.12" textLength="32.5" lengthAdjust="spacingAndGlyphs" >0.72026</text>
<rect x="1598" y="201" width="41" height="11" fill="#0000ff" shape-rendering="crispEdges"/>
<text x="1602.4" y="210" font-size="10.2" fill="#fff" stroke="#fff" stroke-width="0.12" textLength="32.5" lengthAdjust="spacingAndGlyphs" >0.71029</text>
<rect x="1598" y="252" width="41" height="11" fill="#0000ff" shape-rendering="crispEdges"/>
<text x="1602.4" y="261" font-size="10.2" fill="#fff" stroke="#fff" stroke-width="0.12" textLength="32.5" lengthAdjust="spacingAndGlyphs" >0.69995</text>
</g>
<g shape-rendering="crispEdges">
<line x1="4" x2="1596" y1="614.5" y2="614.5" stroke="#c0c0c0" stroke-width="1" stroke-dasharray="3 2"/>
<rect x="1597" y="614" width="2" height="1" fill="#000" />
<line x1="4" x2="1596" y1="654.5" y2="654.5" stroke="#c0c0c0" stroke-width="1" stroke-dasharray="3 2"/>
<rect x="1597" y="654" width="2" height="1" fill="#000" />
</g>
<polyline points="4.5,624.9 12.5,623.2 20.5,623.6 28.5,629.8 36.5,626.8 44.5,630.2 52.5,634.1 60.5,635.9 68.5,634.6 76.5,627.3 84.5,623.6 92.5,621.9 100.5,625.4 108.5,628.5 116.5,628.5 124.5,627.8 132.5,621.2 140.5,626.6 148.5,621.9 156.5,623.6 164.5,622.4 172.5,615.1 180.5,611 188.5,608.8 196.5,609.7 204.5,608.8 212.5,609.7 220.5,608.8 228.5,612.7 236.5,610.7 244.5,623.6 252.5,626.8 260.5,627.8 268.5,626.6 276.5,624.9 284.5,623.9 292.5,629.8 300.5,628.8 308.5,629.8 316.5,624.9 324.5,621 332.5,629.8 340.5,631 348.5,631.7 356.5,631 364.5,632.7 372.5,629 380.5,626.1 388.5,625.6 396.5,623.9 404.5,623.9 412.5,621 420.5,621 428.5,621.9 436.5,623.6 444.5,623.9 452.5,625.8 460.5,621.2 468.5,623.9 476.5,620 484.5,618.8 492.5,622.9 500.5,621.9 508.5,620.7 516.5,609.7 524.5,607.8 532.5,609.7 540.5,618.5 548.5,618.8 556.5,615.1 564.5,612.7 572.5,611.7 580.5,618.8 588.5,616.8 596.5,618.3 604.5,626.8 612.5,621.9 620.5,616.3 628.5,614.6 636.5,625.6 644.5,627.8 652.5,626.1 660.5,627.8 668.5,626.1 676.5,627.1 684.5,625.8 692.5,624.4 700.5,620.7 708.5,617.8 716.5,617.8 724.5,629.8 732.5,632.7 740.5,632.9 748.5,631 756.5,629.8 764.5,624.1 772.5,619.3 780.5,611 788.5,610.7 796.5,608.8 804.5,611 812.5,621.2 820.5,629.8 828.5,629.8 836.5,626.8 844.5,628.5 852.5,635.9 860.5,631 868.5,629.8 876.5,630.7 884.5,630.7 892.5,628 900.5,629 908.5,623.9 916.5,631.7 924.5,629 932.5,630.5 940.5,641.5 948.5,645.6 956.5,652.5 964.5,656.1 972.5,657.8 980.5,656.1 988.5,649.8 996.5,643.7 1004.5,637.8 1012.5,635.1 1020.5,638.8 1028.5,637.6 1036.5,636.1 1044.5,638.8 1052.5,639.8 1060.5,637.8 1068.5,629 1076.5,629 1084.5,632.7 1092.5,637.6 1100.5,637.1 1108.5,645.6 1116.5,645.6 1124.5,644.6 1132.5,644.6 1140.5,647.8 1148.5,638.8 1156.5,639.8 1164.5,638.8 1172.5,637.1 1180.5,638.8 1188.5,635.1 1196.5,643.9 1204.5,649.7 1212.5,648.1 1220.5,646.8 1228.5,644.9 1236.5,628.6 1244.5,629.9 1252.5,620.5 1260.5,622.7" fill="none" stroke="#1e90ff" stroke-width="1" stroke-linejoin="round" shape-rendering="crispEdges"/>
<text x="8.3" y="596" font-size="10.2" fill="#000" stroke="#000" stroke-width="0.12" textLength="31.6" lengthAdjust="spacingAndGlyphs" >RSI(14)</text>
<text x="43" y="596" font-size="10.2" fill="#000" stroke="#000" stroke-width="0.12" textLength="32.7" lengthAdjust="spacingAndGlyphs" >62.8353</text>
<text x="1600" y="594" font-size="10.2" fill="#000" stroke="#000" stroke-width="0.12" textLength="14.6" lengthAdjust="spacingAndGlyphs" >100</text>
<text x="1599.5" y="618" font-size="10.2" fill="#000" stroke="#000" stroke-width="0.12" textLength="9.5" lengthAdjust="spacingAndGlyphs" >70</text>
<text x="1599.5" y="658" font-size="10.2" fill="#000" stroke="#000" stroke-width="0.12" textLength="9.5" lengthAdjust="spacingAndGlyphs" >30</text>
<text x="1600.4" y="682" font-size="10.2" fill="#000" stroke="#000" stroke-width="0.12" textLength="4.6" lengthAdjust="spacingAndGlyphs" >0</text>
<g shape-rendering="crispEdges">
<rect x="4" y="735" width="1" height="25" fill="#c0c0c0" />
<rect x="12" y="732" width="1" height="28" fill="#c0c0c0" />
<rect x="20" y="732" width="1" height="28" fill="#c0c0c0" />
<rect x="28" y="733" width="1" height="27" fill="#c0c0c0" />
<rect x="36" y="733" width="1" height="27" fill="#c0c0c0" />
<rect x="44" y="736" width="1" height="24" fill="#c0c0c0" />
<rect x="52" y="740" width="1" height="20" fill="#c0c0c0" />
<rect x="60" y="743" width="1" height="17" fill="#c0c0c0" />
<rect x="68" y="746" width="1" height="14" fill="#c0c0c0" />
<rect x="76" y="745" width="1" height="15" fill="#c0c0c0" />
<rect x="84" y="742" width="1" height="18" fill="#c0c0c0" />
<rect x="92" y="738" width="1" height="22" fill="#c0c0c0" />
<rect x="100" y="737" width="1" height="23" fill="#c0c0c0" />
<rect x="108" y="738" width="1" height="22" fill="#c0c0c0" />
<rect x="116" y="739" width="1" height="21" fill="#c0c0c0" />
<rect x="124" y="739" width="1" height="21" fill="#c0c0c0" />
<rect x="132" y="736" width="1" height="24" fill="#c0c0c0" />
<rect x="140" y="736" width="1" height="24" fill="#c0c0c0" />
<rect x="148" y="733" width="1" height="27" fill="#c0c0c0" />
<rect x="156" y="732" width="1" height="28" fill="#c0c0c0" />
<rect x="164" y="731" width="1" height="29" fill="#c0c0c0" />
<rect x="172" y="726" width="1" height="34" fill="#c0c0c0" />
<rect x="180" y="719" width="1" height="41" fill="#c0c0c0" />
<rect x="188" y="711" width="1" height="49" fill="#c0c0c0" />
<rect x="196" y="705" width="1" height="55" fill="#c0c0c0" />
<rect x="204" y="700" width="1" height="60" fill="#c0c0c0" />
<rect x="212" y="697" width="1" height="63" fill="#c0c0c0" />
<rect x="220" y="695" width="1" height="65" fill="#c0c0c0" />
<rect x="228" y="695" width="1" height="65" fill="#c0c0c0" />
<rect x="236" y="694" width="1" height="66" fill="#c0c0c0" />
<rect x="244" y="698" width="1" height="62" fill="#c0c0c0" />
<rect x="252" y="704" width="1" height="56" fill="#c0c0c0" />
<rect x="260" y="709" width="1" height="51" fill="#c0c0c0" />
<rect x="268" y="714" width="1" height="46" fill="#c0c0c0" />
<rect x="276" y="717" width="1" height="43" fill="#c0c0c0" />
<rect x="284" y="719" width="1" height="41" fill="#c0c0c0" />
<rect x="292" y="723" width="1" height="37" fill="#c0c0c0" />
<rect x="300" y="726" width="1" height="34" fill="#c0c0c0" />
<rect x="308" y="730" width="1" height="30" fill="#c0c0c0" />
<rect x="316" y="730" width="1" height="30" fill="#c0c0c0" />
<rect x="324" y="729" width="1" height="31" fill="#c0c0c0" />
<rect x="332" y="732" width="1" height="28" fill="#c0c0c0" />
<rect x="340" y="735" width="1" height="25" fill="#c0c0c0" />
<rect x="348" y="737" width="1" height="23" fill="#c0c0c0" />
<rect x="356" y="739" width="1" height="21" fill="#c0c0c0" />
<rect x="364" y="742" width="1" height="18" fill="#c0c0c0" />
<rect x="372" y="742" width="1" height="18" fill="#c0c0c0" />
<rect x="380" y="742" width="1" height="18" fill="#c0c0c0" />
<rect x="388" y="742" width="1" height="18" fill="#c0c0c0" />
<rect x="396" y="741" width="1" height="19" fill="#c0c0c0" />
<rect x="404" y="741" width="1" height="19" fill="#c0c0c0" />
<rect x="412" y="741" width="1" height="19" fill="#c0c0c0" />
<rect x="420" y="740" width="1" height="20" fill="#c0c0c0" />
<rect x="428" y="739" width="1" height="21" fill="#c0c0c0" />
<rect x="436" y="740" width="1" height="20" fill="#c0c0c0" />
<rect x="444" y="740" width="1" height="20" fill="#c0c0c0" />
<rect x="452" y="741" width="1" height="19" fill="#c0c0c0" />
<rect x="460" y="741" width="1" height="19" fill="#c0c0c0" />
<rect x="468" y="741" width="1" height="19" fill="#c0c0c0" />
<rect x="476" y="741" width="1" height="19" fill="#c0c0c0" />
<rect x="484" y="740" width="1" height="20" fill="#c0c0c0" />
<rect x="492" y="740" width="1" height="20" fill="#c0c0c0" />
<rect x="500" y="741" width="1" height="19" fill="#c0c0c0" />
<rect x="508" y="741" width="1" height="19" fill="#c0c0c0" />
<rect x="516" y="737" width="1" height="23" fill="#c0c0c0" />
<rect x="524" y="734" width="1" height="26" fill="#c0c0c0" />
<rect x="532" y="731" width="1" height="29" fill="#c0c0c0" />
<rect x="540" y="731" width="1" height="29" fill="#c0c0c0" />
<rect x="548" y="732" width="1" height="28" fill="#c0c0c0" />
<rect x="556" y="731" width="1" height="29" fill="#c0c0c0" />
<rect x="564" y="729" width="1" height="31" fill="#c0c0c0" />
<rect x="572" y="728" width="1" height="32" fill="#c0c0c0" />
<rect x="580" y="730" width="1" height="30" fill="#c0c0c0" />
<rect x="588" y="730" width="1" height="30" fill="#c0c0c0" />
<rect x="596" y="730" width="1" height="30" fill="#c0c0c0" />
<rect x="604" y="733" width="1" height="27" fill="#c0c0c0" />
<rect x="612" y="734" width="1" height="26" fill="#c0c0c0" />
<rect x="620" y="732" width="1" height="28" fill="#c0c0c0" />
<rect x="628" y="730" width="1" height="30" fill="#c0c0c0" />
<rect x="636" y="732" width="1" height="28" fill="#c0c0c0" />
<rect x="644" y="734" width="1" height="26" fill="#c0c0c0" />
<rect x="652" y="736" width="1" height="24" fill="#c0c0c0" />
<rect x="660" y="738" width="1" height="22" fill="#c0c0c0" />
<rect x="668" y="739" width="1" height="21" fill="#c0c0c0" />
<rect x="676" y="740" width="1" height="20" fill="#c0c0c0" />
<rect x="684" y="741" width="1" height="19" fill="#c0c0c0" />
<rect x="692" y="742" width="1" height="18" fill="#c0c0c0" />
<rect x="700" y="741" width="1" height="19" fill="#c0c0c0" />
<rect x="708" y="740" width="1" height="20" fill="#c0c0c0" />
<rect x="716" y="740" width="1" height="20" fill="#c0c0c0" />
<rect x="724" y="741" width="1" height="19" fill="#c0c0c0" />
<rect x="732" y="744" width="1" height="16" fill="#c0c0c0" />
<rect x="740" y="746" width="1" height="14" fill="#c0c0c0" />
<rect x="748" y="747" width="1" height="13" fill="#c0c0c0" />
<rect x="756" y="748" width="1" height="12" fill="#c0c0c0" />
<rect x="764" y="747" width="1" height="13" fill="#c0c0c0" />
<rect x="772" y="745" width="1" height="15" fill="#c0c0c0" />
<rect x="780" y="741" width="1" height="19" fill="#c0c0c0" />
<rect x="788" y="737" width="1" height="23" fill="#c0c0c0" />
<rect x="796" y="733" width="1" height="27" fill="#c0c0c0" />
<rect x="804" y="731" width="1" height="29" fill="#c0c0c0" />
<rect x="812" y="731" width="1" height="29" fill="#c0c0c0" />
<rect x="820" y="734" width="1" height="26" fill="#c0c0c0" />
<rect x="828" y="737" width="1" height="23" fill="#c0c0c0" />
<rect x="836" y="738" width="1" height="22" fill="#c0c0c0" />
<rect x="844" y="740" width="1" height="20" fill="#c0c0c0" />
<rect x="852" y="743" width="1" height="17" fill="#c0c0c0" />
<rect x="860" y="745" width="1" height="15" fill="#c0c0c0" />
<rect x="868" y="745" width="1" height="15" fill="#c0c0c0" />
<rect x="876" y="746" width="1" height="14" fill="#c0c0c0" />
<rect x="884" y="748" width="1" height="12" fill="#c0c0c0" />
<rect x="892" y="748" width="1" height="12" fill="#c0c0c0" />
<rect x="900" y="748" width="1" height="12" fill="#c0c0c0" />
<rect x="908" y="747" width="1" height="13" fill="#c0c0c0" />
<rect x="916" y="748" width="1" height="12" fill="#c0c0c0" />
<rect x="924" y="748" width="1" height="12" fill="#c0c0c0" />
<rect x="932" y="749" width="1" height="11" fill="#c0c0c0" />
<rect x="940" y="753" width="1" height="7" fill="#c0c0c0" />
<rect x="948" y="757" width="1" height="3" fill="#c0c0c0" />
<rect x="956" y="759" width="1" height="4" fill="#c0c0c0" />
<rect x="964" y="759" width="1" height="11" fill="#c0c0c0" />
<rect x="972" y="759" width="1" height="18" fill="#c0c0c0" />
<rect x="980" y="759" width="1" height="22" fill="#c0c0c0" />
<rect x="988" y="759" width="1" height="24" fill="#c0c0c0" />
<rect x="996" y="759" width="1" height="23" fill="#c0c0c0" />
<rect x="1004" y="759" width="1" height="21" fill="#c0c0c0" />
<rect x="1012" y="759" width="1" height="17" fill="#c0c0c0" />
<rect x="1020" y="759" width="1" height="17" fill="#c0c0c0" />
<rect x="1028" y="759" width="1" height="15" fill="#c0c0c0" />
<rect x="1036" y="759" width="1" height="12" fill="#c0c0c0" />
<rect x="1044" y="759" width="1" height="12" fill="#c0c0c0" />
<rect x="1052" y="759" width="1" height="11" fill="#c0c0c0" />
<rect x="1060" y="759" width="1" height="10" fill="#c0c0c0" />
<rect x="1068" y="759" width="1" height="6" fill="#c0c0c0" />
<rect x="1076" y="759" width="1" height="3" fill="#c0c0c0" />
<rect x="1084" y="759" width="1" height="2" fill="#c0c0c0" />
<rect x="1092" y="759" width="1" height="2" fill="#c0c0c0" />
<rect x="1100" y="759" width="1" height="2" fill="#c0c0c0" />
<rect x="1108" y="759" width="1" height="7" fill="#c0c0c0" />
<rect x="1116" y="759" width="1" height="9" fill="#c0c0c0" />
<rect x="1124" y="759" width="1" height="10" fill="#c0c0c0" />
<rect x="1132" y="759" width="1" height="12" fill="#c0c0c0" />
<rect x="1140" y="759" width="1" height="14" fill="#c0c0c0" />
<rect x="1148" y="759" width="1" height="13" fill="#c0c0c0" />
<rect x="1156" y="759" width="1" height="12" fill="#c0c0c0" />
<rect x="1164" y="759" width="1" height="11" fill="#c0c0c0" />
<rect x="1172" y="759" width="1" height="10" fill="#c0c0c0" />
<rect x="1180" y="759" width="1" height="9" fill="#c0c0c0" />
<rect x="1188" y="759" width="1" height="8" fill="#c0c0c0" />
<rect x="1196" y="759" width="1" height="9" fill="#c0c0c0" />
<rect x="1204" y="759" width="1" height="11" fill="#c0c0c0" />
<rect x="1212" y="759" width="1" height="13" fill="#c0c0c0" />
<rect x="1220" y="759" width="1" height="15" fill="#c0c0c0" />
<rect x="1228" y="759" width="1" height="15" fill="#c0c0c0" />
<rect x="1236" y="759" width="1" height="11" fill="#c0c0c0" />
<rect x="1244" y="759" width="1" height="7" fill="#c0c0c0" />
<rect x="1252" y="759" width="1" height="1" fill="#c0c0c0" />
<rect x="1260" y="756" width="1" height="4" fill="#c0c0c0" />
<rect x="1597" y="759" width="2" height="1" fill="#000" />
<rect x="1597" y="585" width="1" height="1" fill="#000" />
</g>
<polyline points="4.5,730.9 12.5,730.9 20.5,732.1 28.5,732.8 36.5,733.3 44.5,734.3 52.5,735.3 60.5,736.2 68.5,737.2 76.5,737.7 84.5,738.9 92.5,739.9 100.5,740.1 108.5,740.6 116.5,740.9 124.5,740.9 132.5,739.9 140.5,738.9 148.5,737 156.5,735.8 164.5,735.3 172.5,734 180.5,731.4 188.5,728.9 196.5,724.8 204.5,721.1 212.5,716.2 220.5,712.6 228.5,708.4 236.5,704.5 244.5,700.9 252.5,700.1 260.5,700.1 268.5,700.9 276.5,702.8 284.5,704.8 292.5,707.7 300.5,711.8 308.5,715.5 316.5,718.2 324.5,721.8 332.5,723.5 340.5,726 348.5,728.9 356.5,730.4 364.5,732.8 372.5,735.3 380.5,736.5 388.5,737.7 396.5,738.9 404.5,740.1 412.5,740.6 420.5,740.9 428.5,740.6 436.5,740.6 444.5,740.1 452.5,740.1 460.5,740.1 468.5,740.1 476.5,740.1 484.5,740.1 492.5,740.1 500.5,740.9 508.5,740.9 516.5,740.4 524.5,739.7 532.5,738.4 540.5,737.5 548.5,736.2 556.5,734.8 564.5,733.6 572.5,732.1 580.5,730.9 588.5,730.4 596.5,730.1 604.5,730.1 612.5,730.9 620.5,730.9 628.5,730.9 636.5,730.9 644.5,732.1 652.5,732.1 660.5,732.8 668.5,734 676.5,734.8 684.5,735.8 692.5,737 700.5,737.7 708.5,738.7 716.5,739.9 724.5,740.1 732.5,740.6 740.5,741.9 748.5,742.8 756.5,743.1 764.5,743.8 772.5,744 780.5,744 788.5,743.8 796.5,743.1 804.5,741.9 812.5,740.1 820.5,738.2 828.5,736.7 836.5,736 844.5,736 852.5,736 860.5,737 868.5,737.7 876.5,739.9 884.5,741.4 892.5,742.6 900.5,744.3 908.5,746 916.5,746.2 924.5,747 932.5,747.2 940.5,748 948.5,749.2 956.5,750.4 964.5,753.3 972.5,757 980.5,760.2 988.5,764.3 996.5,768.7 1004.5,772.4 1012.5,774.8 1020.5,777.2 1028.5,778.2 1036.5,778.7 1044.5,778.2 1052.5,776.8 1060.5,775.5 1068.5,772.8 1076.5,771.6 1084.5,770.4 1092.5,768 1100.5,767 1108.5,765.8 1116.5,765.8 1124.5,765.8 1132.5,766 1140.5,767 1148.5,768.2 1156.5,768.9 1164.5,769.7 1172.5,770.9 1180.5,770.9 1188.5,770.9 1196.5,770.9 1204.5,770.7 1212.5,770.7 1220.5,771 1228.5,771.5 1236.5,771.5 1244.5,771.5 1252.5,770.2 1260.5,768.3" fill="none" stroke="#ff0000" stroke-width="1" stroke-dasharray="3 3" shape-rendering="crispEdges"/>
<text x="8.5" y="700" font-size="10.2" fill="#000" stroke="#000" stroke-width="0.12" textLength="64.5" lengthAdjust="spacingAndGlyphs" >MACD(12,26,9)</text>
<text x="77.4" y="700" font-size="10.2" fill="#000" stroke="#000" stroke-width="0.12" textLength="37" lengthAdjust="spacingAndGlyphs" >0.000992</text>
<text x="118" y="700" font-size="10.2" fill="#000" stroke="#000" stroke-width="0.12" textLength="40.8" lengthAdjust="spacingAndGlyphs" >-0.001915</text>
<text x="1600" y="698" font-size="10.2" fill="#000" stroke="#000" stroke-width="0.12" textLength="37.2" lengthAdjust="spacingAndGlyphs" >0.014861</text>
<text x="1600" y="763" font-size="10.2" fill="#000" stroke="#000" stroke-width="0.12" textLength="17.4" lengthAdjust="spacingAndGlyphs" >0.00</text>
<text x="1599" y="785" font-size="10.2" fill="#000" stroke="#000" stroke-width="0.12" textLength="41.5" lengthAdjust="spacingAndGlyphs" >-0.005938</text>
<g shape-rendering="crispEdges">
<rect x="4" y="789" width="1" height="3" fill="#000" />
<rect x="68" y="789" width="1" height="3" fill="#000" />
<rect x="132" y="789" width="1" height="3" fill="#000" />
<rect x="196" y="789" width="1" height="3" fill="#000" />
<rect x="260" y="789" width="1" height="3" fill="#000" />
<rect x="324" y="789" width="1" height="3" fill="#000" />
<rect x="388" y="789" width="1" height="3" fill="#000" />
<rect x="452" y="789" width="1" height="3" fill="#000" />
<rect x="516" y="789" width="1" height="3" fill="#000" />
<rect x="580" y="789" width="1" height="3" fill="#000" />
<rect x="644" y="789" width="1" height="3" fill="#000" />
<rect x="708" y="789" width="1" height="3" fill="#000" />
<rect x="772" y="789" width="1" height="3" fill="#000" />
<rect x="836" y="789" width="1" height="3" fill="#000" />
<rect x="900" y="789" width="1" height="3" fill="#000" />
<rect x="964" y="789" width="1" height="3" fill="#000" />
<rect x="1028" y="789" width="1" height="3" fill="#000" />
<rect x="1092" y="789" width="1" height="3" fill="#000" />
<rect x="1156" y="789" width="1" height="3" fill="#000" />
<rect x="1220" y="789" width="1" height="3" fill="#000" />
</g>
<text x="3" y="801" font-size="10.2" fill="#000" stroke="#000" stroke-width="0.12" textLength="50" lengthAdjust="spacingAndGlyphs" >7 May 2020</text>
<text x="67.5" y="801" font-size="10.2" fill="#000" stroke="#000" stroke-width="0.12" textLength="53.8" lengthAdjust="spacingAndGlyphs" >16 May 2020</text>
<text x="131" y="801" font-size="10.2" fill="#000" stroke="#000" stroke-width="0.12" textLength="54.5" lengthAdjust="spacingAndGlyphs" >26 May 2020</text>
<text x="195" y="801" font-size="10.2" fill="#000" stroke="#000" stroke-width="0.12" textLength="45.3" lengthAdjust="spacingAndGlyphs" >4 Jun 2020</text>
<text x="259.5" y="801" font-size="10.2" fill="#000" stroke="#000" stroke-width="0.12" textLength="48.5" lengthAdjust="spacingAndGlyphs" >13 Jun 2020</text>
<text x="323" y="801" font-size="10.2" fill="#000" stroke="#000" stroke-width="0.12" textLength="48.7" lengthAdjust="spacingAndGlyphs" >23 Jun 2020</text>
<text x="387" y="801" font-size="10.2" fill="#000" stroke="#000" stroke-width="0.12" textLength="42" lengthAdjust="spacingAndGlyphs" >2 Jul 2020</text>
<text x="451.5" y="801" font-size="10.2" fill="#000" stroke="#000" stroke-width="0.12" textLength="46.2" lengthAdjust="spacingAndGlyphs" >11 Jul 2020</text>
<text x="515" y="801" font-size="10.2" fill="#000" stroke="#000" stroke-width="0.12" textLength="46.8" lengthAdjust="spacingAndGlyphs" >21 Jul 2020</text>
<text x="579" y="801" font-size="10.2" fill="#000" stroke="#000" stroke-width="0.12" textLength="46.5" lengthAdjust="spacingAndGlyphs" >30 Jul 2020</text>
<text x="643" y="801" font-size="10.2" fill="#000" stroke="#000" stroke-width="0.12" textLength="47.5" lengthAdjust="spacingAndGlyphs" >8 Aug 2020</text>
<text x="707.5" y="801" font-size="10.2" fill="#000" stroke="#000" stroke-width="0.12" textLength="51.5" lengthAdjust="spacingAndGlyphs" >18 Aug 2020</text>
<text x="771" y="801" font-size="10.2" fill="#000" stroke="#000" stroke-width="0.12" textLength="52" lengthAdjust="spacingAndGlyphs" >27 Aug 2020</text>
<text x="835" y="801" font-size="10.2" fill="#000" stroke="#000" stroke-width="0.12" textLength="46.3" lengthAdjust="spacingAndGlyphs" >5 Sep 2020</text>
<text x="899.5" y="801" font-size="10.2" fill="#000" stroke="#000" stroke-width="0.12" textLength="50.8" lengthAdjust="spacingAndGlyphs" >15 Sep 2020</text>
<text x="963" y="801" font-size="10.2" fill="#000" stroke="#000" stroke-width="0.12" textLength="51.8" lengthAdjust="spacingAndGlyphs" >24 Sep 2020</text>
<text x="1027" y="801" font-size="10.2" fill="#000" stroke="#000" stroke-width="0.12" textLength="45" lengthAdjust="spacingAndGlyphs" >3 Oct 2020</text>
<text x="1091.5" y="801" font-size="10.2" fill="#000" stroke="#000" stroke-width="0.12" textLength="49.5" lengthAdjust="spacingAndGlyphs" >13 Oct 2020</text>
<text x="1155" y="801" font-size="10.2" fill="#000" stroke="#000" stroke-width="0.12" textLength="49.5" lengthAdjust="spacingAndGlyphs" >22 Oct 2020</text>
<text x="1219" y="801" font-size="10.2" fill="#000" stroke="#000" stroke-width="0.12" textLength="50" lengthAdjust="spacingAndGlyphs" >31 Oct 2020</text>
<g shape-rendering="crispEdges">
<rect x="0" y="809" width="1639" height="1" fill="#e3e3e3" />
<rect x="0" y="811" width="1639" height="21" fill="#f0f0f0" />
<rect x="0" y="811" width="1639" height="1" fill="#000" />
<rect x="209" y="811" width="104" height="19" fill="#000" />
<rect x="210" y="811" width="102" height="18" fill="#fff" />
<rect x="0" y="812" width="1" height="18" fill="#505050" />
</g>
<text x="17" y="826" font-size="12" fill="#787878" stroke="#787878" stroke-width="0" textLength="80" lengthAdjust="spacingAndGlyphs" >EURUSD,Daily</text>
<text x="119.3" y="826" font-size="12" fill="#787878" stroke="#787878" stroke-width="0" textLength="78.7" lengthAdjust="spacingAndGlyphs" >USDCHF,Daily</text>
<text x="220.3" y="826" font-size="12" fill="#000" stroke="#000" stroke-width="0" textLength="81.6" lengthAdjust="spacingAndGlyphs" >AUDUSD,Daily</text>
<text x="323.9" y="826" font-size="12" fill="#787878" stroke="#787878" stroke-width="0" textLength="80.8" lengthAdjust="spacingAndGlyphs" >USDCAD,Daily</text>
<text x="427" y="826" font-size="12" fill="#787878" stroke="#787878" stroke-width="0" textLength="83" lengthAdjust="spacingAndGlyphs" >USDCNH,Daily</text>
<text x="533" y="826" font-size="12" fill="#787878" stroke="#787878" stroke-width="0" textLength="80" lengthAdjust="spacingAndGlyphs" >EURUSD,Daily</text>
<text x="636.3" y="826" font-size="12" fill="#787878" stroke="#787878" stroke-width="0" textLength="68.3" lengthAdjust="spacingAndGlyphs" >GBPUSD,H4</text>
<text x="727.6" y="826" font-size="12" fill="#787878" stroke="#787878" stroke-width="0" textLength="68.8" lengthAdjust="spacingAndGlyphs" >XAUUSD,H1</text>
<text x="820" y="826" font-size="12" fill="#787878" stroke="#787878" stroke-width="0" textLength="49.3" lengthAdjust="spacingAndGlyphs" >HK50,H1</text>
<text x="892.5" y="826" font-size="12" fill="#787878" stroke="#787878" stroke-width="0" textLength="56.3" lengthAdjust="spacingAndGlyphs" >UK100,H1</text>
<text x="972.5" y="826" font-size="12" fill="#787878" stroke="#787878" stroke-width="0" textLength="56.3" lengthAdjust="spacingAndGlyphs" >UK100,H1</text>
<text x="1052" y="826" font-size="12" fill="#787878" stroke="#787878" stroke-width="0" textLength="56.8" lengthAdjust="spacingAndGlyphs" >GER30,H1</text>
<text x="1131.3" y="826" font-size="12" fill="#787878" stroke="#787878" stroke-width="0" textLength="53.7" lengthAdjust="spacingAndGlyphs" >FRA40,H1</text>
<text x="1207" y="826" font-size="12" fill="#787878" stroke="#787878" stroke-width="0" textLength="50.8" lengthAdjust="spacingAndGlyphs" >USOil,H4</text>
<text x="1279" y="826" font-size="12" fill="#787878" stroke="#787878" stroke-width="0" textLength="62.5" lengthAdjust="spacingAndGlyphs" >USDJPY,H1</text>
<text x="1363.3" y="826" font-size="12" fill="#787878" stroke="#787878" stroke-width="0" textLength="58.3" lengthAdjust="spacingAndGlyphs" >DJ30,Daily</text>
<text x="1442.9" y="826" font-size="12" fill="#787878" stroke="#787878" stroke-width="0" textLength="78.7" lengthAdjust="spacingAndGlyphs" >CHINA300,H1</text>
<text x="1542.9" y="826" font-size="12" fill="#787878" stroke="#787878" stroke-width="0" textLength="50.1" lengthAdjust="spacingAndGlyphs" >USOil,H1</text>
<g shape-rendering="crispEdges">
<rect x="109" y="815" width="1" height="13" fill="#808080" />
<rect x="418" y="815" width="1" height="13" fill="#808080" />
<rect x="521" y="815" width="1" height="13" fill="#808080" />
<rect x="625" y="815" width="1" height="13" fill="#808080" />
<rect x="717" y="815" width="1" height="13" fill="#808080" />
<rect x="810" y="815" width="1" height="13" fill="#808080" />
<rect x="881" y="815" width="1" height="13" fill="#808080" />
<rect x="961" y="815" width="1" height="13" fill="#808080" />
<rect x="1041" y="815" width="1" height="13" fill="#808080" />
<rect x="1121" y="815" width="1" height="13" fill="#808080" />
<rect x="1198" y="815" width="1" height="13" fill="#808080" />
<rect x="1269" y="815" width="1" height="13" fill="#808080" />
<rect x="1353" y="815" width="1" height="13" fill="#808080" />
<rect x="1434" y="815" width="1" height="13" fill="#808080" />
<rect x="1533" y="815" width="1" height="13" fill="#808080" />
<rect x="1605" y="815" width="1" height="13" fill="#808080" />
</g>
<polygon points="1615.5,817 1615.5,824 1612,820.5" fill="#a0a0a0"/>
<polygon points="1630.5,817 1630.5,824 1634,820.5" fill="#000"/>
<text x="43.4" y="13" font-size="10.2" fill="#404040" stroke="#404040" stroke-width="0" textLength="12.8" lengthAdjust="spacingAndGlyphs" >M1</text>
<text x="71.4" y="13" font-size="10.2" fill="#404040" stroke="#404040" stroke-width="0" textLength="12.8" lengthAdjust="spacingAndGlyphs" >M5</text>
<text x="97.6" y="13" font-size="10.2" fill="#404040" stroke="#404040" stroke-width="0" textLength="17.4" lengthAdjust="spacingAndGlyphs" >M15</text>
<text x="125.6" y="13" font-size="10.2" fill="#404040" stroke="#404040" stroke-width="0" textLength="17.5" lengthAdjust="spacingAndGlyphs" >M30</text>
<text x="156.5" y="13" font-size="10.2" fill="#404040" stroke="#404040" stroke-width="0" textLength="11.5" lengthAdjust="spacingAndGlyphs" >H1</text>
<text x="183.6" y="13" font-size="10.2" fill="#404040" stroke="#404040" stroke-width="0" textLength="12.3" lengthAdjust="spacingAndGlyphs" >H4</text>
<text x="212.3" y="13" font-size="10.2" fill="#404040" stroke="#404040" stroke-width="0" textLength="11.4" lengthAdjust="spacingAndGlyphs" >D1</text>
<text x="240.2" y="13" font-size="10.2" fill="#404040" stroke="#404040" stroke-width="0" textLength="13.9" lengthAdjust="spacingAndGlyphs" >W1</text>
<text x="266.5" y="13" font-size="10.2" fill="#404040" stroke="#404040" stroke-width="0" textLength="14.7" lengthAdjust="spacingAndGlyphs" >MN</text>
<polygon points="17,8 22,8 19.5,11" fill="#000"/>
<g stroke="#505050" stroke-width="1.6" fill="none"><path d="M0,12 L5,7"/><path d="M0,5 L2,7"/></g><polygon points="3,12.5 6.5,10.8 10,12.5 6.5,16" fill="#505050"/>
</svg></body></html>
